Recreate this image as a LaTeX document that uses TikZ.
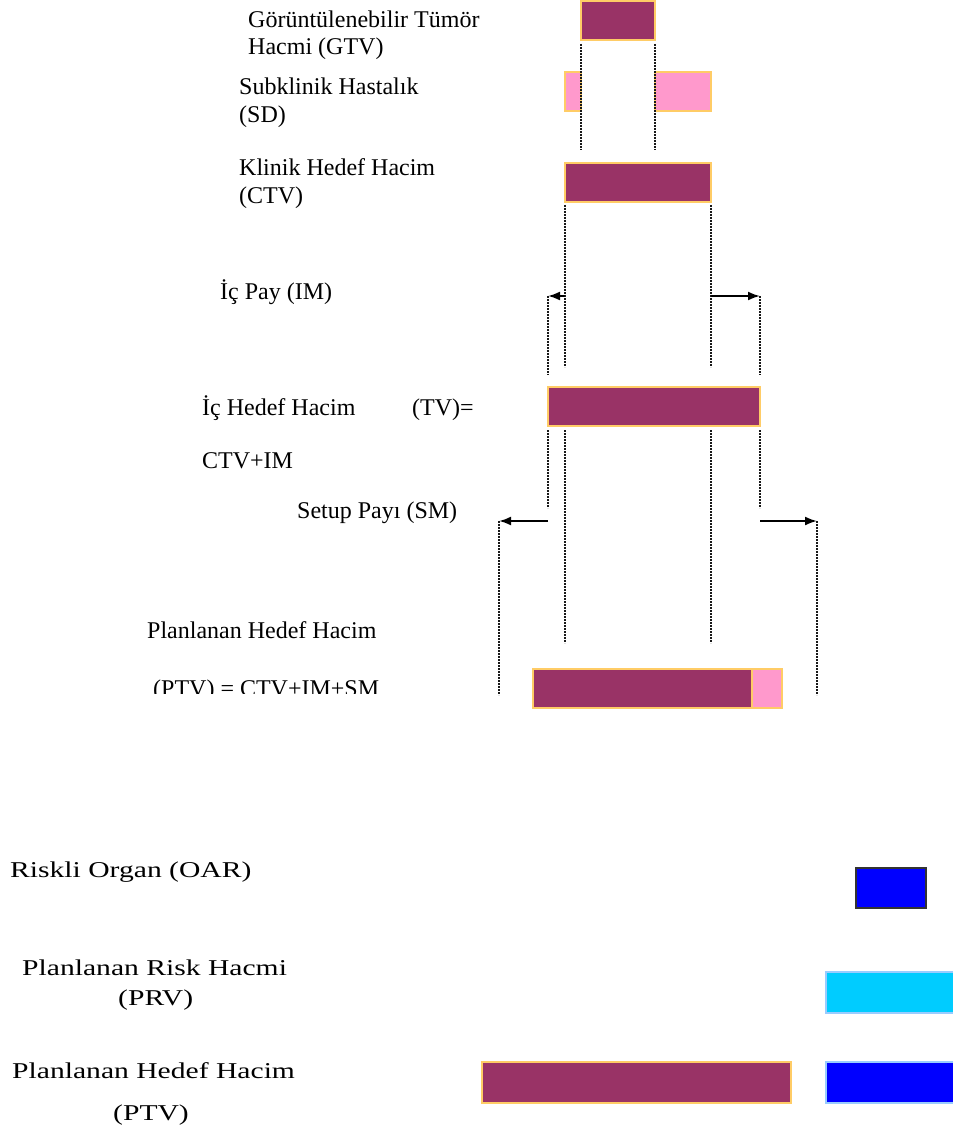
\documentclass[tikz,border=0pt]{standalone}
\usepackage{fontspec}
\setmainfont{Liberation Serif}
\newfontfamily\widefont[FakeStretch=1.31]{Liberation Serif}
\usetikzlibrary{arrows.meta}
\definecolor{tumor}{HTML}{993366}
\definecolor{margin}{HTML}{FF99CC}
\definecolor{prvcol}{HTML}{00CCFF}
\definecolor{organ}{HTML}{0000FF}
\definecolor{edgeorange}{HTML}{FFCC66}
\definecolor{edgeblue}{HTML}{99CCFF}
\tikzset{
  bar/.style={rectangle, draw=edgeorange, line width=1.5pt, inner sep=0pt, outer sep=0pt, anchor=north west},
  bluebar/.style={bar, draw=edgeblue},
  guide/.style={line width=2pt, black!90, dash pattern=on 2pt off 1pt},
  arr/.style={line width=2pt, -{Latex[length=12pt,width=9pt]}},
  lbl/.style={anchor=base west, inner sep=0pt, font=\fontsize{24}{28}\selectfont},
  wlbl/.style={anchor=base west, inner sep=0pt, font=\widefont\fontsize{22.6}{27}\selectfont},
}
\begin{document}
\begin{tikzpicture}[x=1pt,y=-1pt]
\useasboundingbox (0,0) rectangle (952,1131);

% --- bars of the target-volume scheme
\node[bar, fill=tumor, minimum width=74, minimum height=39] (gtv) at (581,1) {};
\node[bar, fill=margin, minimum width=16, minimum height=39] (sdL) at (565,72) {};
\node[bar, fill=margin, minimum width=56, minimum height=39] (sdR) at (655,72) {};
\node[bar, fill=tumor, minimum width=146, minimum height=39] (ctv) at (565,163) {};
\node[bar, fill=tumor, minimum width=212, minimum height=39] (tv) at (548,387) {};
\node[bar, fill=tumor, minimum width=219, minimum height=39] (ptv) at (533,669) {};
\node[bar, fill=margin, minimum width=30, minimum height=39] (ptvm) at (752,669) {};

% --- dotted guides
\draw[guide] (gtv.south west) ++(0,4) -- ++(0,106);
\draw[guide] (gtv.south east) ++(0,4) -- ++(0,106);
\draw[guide] (ctv.south west) ++(0,3) -- ++(0,162);
\draw[guide] (ctv.south east) ++(0,3) -- ++(0,162);
\draw[guide] (tv.north west |- 0,296) -- (tv.north west |- 0,375);
\draw[guide] (tv.north east |- 0,296) -- (tv.north east |- 0,375);
\draw[guide] (tv.south west) ++(0,4) -- ++(0,78);
\draw[guide] (tv.south east) ++(0,4) -- ++(0,78);
\draw[guide] (ctv.south west |- tv.south) ++(0,4) -- ++(0,213);
\draw[guide] (ctv.south east |- tv.south) ++(0,4) -- ++(0,213);
\coordinate (smL) at (499,521);
\coordinate (smR) at (817,521);
\draw[guide] (smL) -- ++(0,174);
\draw[guide] (smR) -- ++(0,174);

% --- margin arrows
\draw[arr] (ctv.south west |- 0,296) -- (tv.north west |- 0,296);
\draw[arr] (ctv.south east |- 0,296) -- (tv.north east |- 0,296);
\draw[arr] (tv.south west |- smL) -- (smL);
\draw[arr] (tv.south east |- smR) -- (smR);

% --- labels
\node[lbl] (tgtv1) at (248,28) {Görüntülenebilir Tümör};
\node[lbl] (tgtv2) at (248,55) {Hacmi (GTV)};
\node[lbl] (tsd1) at (239,95) {Subklinik Hastalık};
\node[lbl] (tsd2) at (239,123) {(SD)};
\node[lbl] (tctv1) at (239,176) {Klinik Hedef Hacim};
\node[lbl] (tctv2) at (239,204) {(CTV)};
\node[lbl] (tim) at (220,299) {İç Pay (IM)};
\node[lbl] (ttv1) at (202,415) {İç Hedef Hacim};
\node[lbl] (ttv2) at (412,415) {(TV)=};
\node[lbl] (ttv3) at (202,468) {CTV+IM};
\node[lbl] (tsm) at (297,518) {Setup Payı (SM)};
\node[lbl] (tptv1) at (147,638) {Planlanan Hedef Hacim};
\begin{scope}
  \clip (100,660) rectangle (480,693);
  \node[lbl] (tptv2) at (153,696) {(PTV) = CTV+IM+SM};
\end{scope}

% --- organ at risk comparison
\node[bar, draw=black!80, line width=1.3pt, fill=organ, minimum width=70, minimum height=40] (oar) at (856,868) {};
\node[bluebar, fill=prvcol, minimum width=132, minimum height=41] (prv) at (826,972) {};
\node[bluebar, fill=organ, minimum width=132, minimum height=41] (ptvo) at (826,1062) {};
\node[bar, fill=tumor, minimum width=309, minimum height=41] (ptv2) at (482,1062) {};

\node[wlbl] (toar) at (10,877) {Riskli Organ (OAR)};
\node[wlbl] (tprv1) at (22,975) {Planlanan Risk Hacmi};
\node[wlbl] (tprv2) at (118,1005) {(PRV)};
\node[wlbl] (tptv3) at (12,1078) {Planlanan Hedef Hacim};
\node[wlbl] (tptv4) at (113,1120) {(PTV)};
\end{tikzpicture}
\end{document}
